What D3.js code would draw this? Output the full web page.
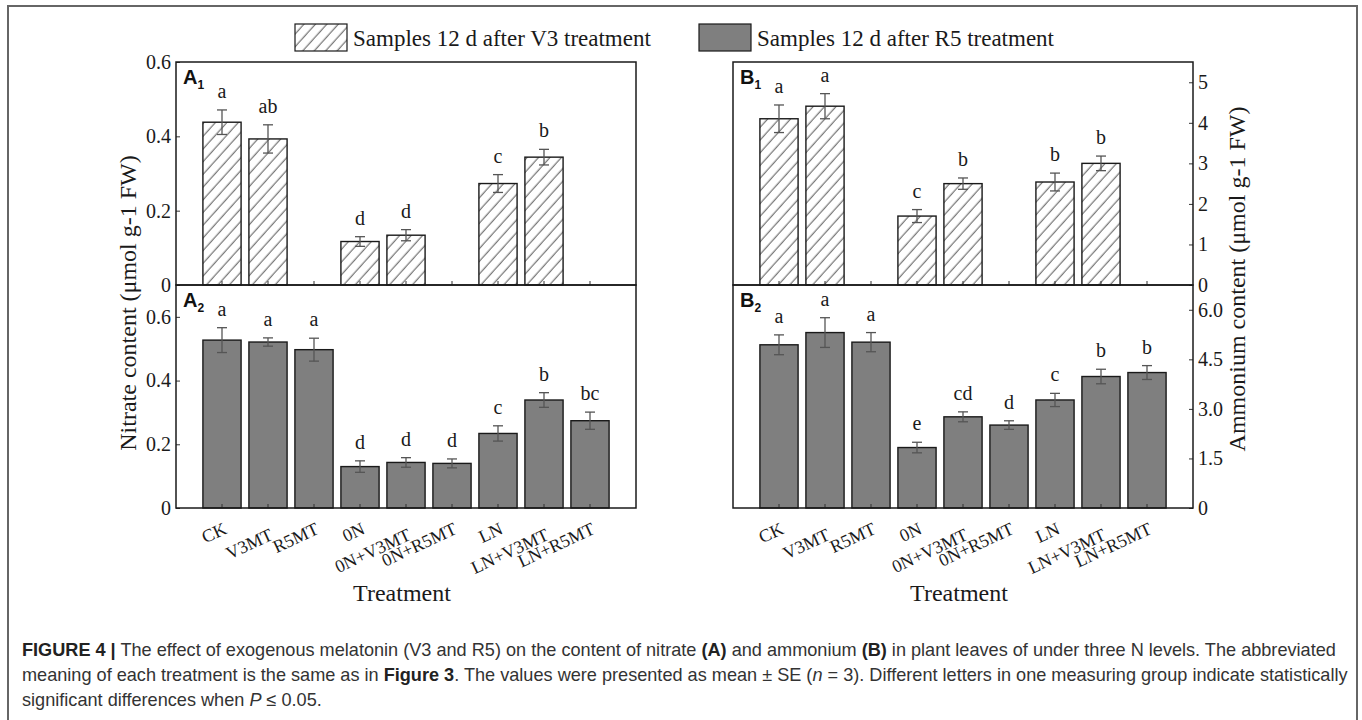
<!DOCTYPE html>
<html><head><meta charset="utf-8">
<script src="https://cdn.jsdelivr.net/npm/d3@7"></script>
<style>body{margin:0;background:#fff;} svg{display:block;}</style>
</head><body><svg id="chart" width="1362" height="720"></svg>
<script>
// ---------------- data ----------------
const categories = ["CK","V3MT","R5MT","0N","0N+V3MT","0N+R5MT","LN","LN+V3MT","LN+R5MT"];

// Nitrate (A), samples 12 d after V3 treatment (A1)
const nitrateV3      = [0.438, 0.393, null, 0.117, 0.134, null, 0.273, 0.344, null];
const nitrateV3Err   = [0.033, 0.038, null, 0.013, 0.015, null, 0.024, 0.021, null];
const nitrateV3Sig   = ["a", "ab", "", "d", "d", "", "c", "b", ""];
// Nitrate (A), samples 12 d after R5 treatment (A2)
const nitrateR5      = [0.527, 0.521, 0.497, 0.130, 0.143, 0.140, 0.234, 0.339, 0.274];
const nitrateR5Err   = [0.039, 0.013, 0.036, 0.018, 0.015, 0.014, 0.024, 0.023, 0.027];
const nitrateR5Sig   = ["a", "a", "a", "d", "d", "d", "c", "b", "bc"];
// Ammonium (B), V3 samples (B1)
const ammoniumV3     = [4.10, 4.41, null, 1.70, 2.50, null, 2.54, 3.00, null];
const ammoniumV3Err  = [0.34, 0.31, null, 0.16, 0.14, null, 0.22, 0.18, null];
const ammoniumV3Sig  = ["a", "a", "", "c", "b", "", "b", "b", ""];
// Ammonium (B), R5 samples (B2)
const ammoniumR5     = [4.94, 5.31, 5.02, 1.83, 2.76, 2.51, 3.27, 3.98, 4.10];
const ammoniumR5Err  = [0.30, 0.45, 0.29, 0.16, 0.15, 0.13, 0.20, 0.22, 0.21];
const ammoniumR5Sig  = ["a", "a", "a", "e", "cd", "d", "c", "b", "b"];

const nitrateTicks     = [0, 0.2, 0.4, 0.6];
const ammoniumTicksTop = [0, 1, 2, 3, 4, 5];
const ammoniumTicksBot = [0, 1.5, 3.0, 4.5, 6.0];

const legendLabels = ["Samples 12 d after V3 treatment", "Samples 12 d after R5 treatment"];

// ---------------- drawing ----------------
const svg = d3.select("#chart");
const serif = "'Liberation Serif','Times New Roman',serif";
const sans  = "'Liberation Sans',Arial,sans-serif";
const barGray = "#7f7f7f";

const defs = svg.append("defs");
const pat = defs.append("pattern").attr("id","hatch").attr("patternUnits","userSpaceOnUse")
  .attr("width",8.5).attr("height",8.5).attr("patternTransform","rotate(42)");
pat.append("rect").attr("width",8.5).attr("height",8.5).attr("fill","#fff");
pat.append("line").attr("x1",4).attr("y1",-1).attr("x2",4).attr("y2",10).attr("stroke","#2a2a2a").attr("stroke-width",0.8);

// outer figure border
svg.append("rect").attr("x",8).attr("y",6).attr("width",1349).attr("height",740)
  .attr("fill","none").attr("stroke","#666").attr("stroke-width",2);

const fmtA = d => d === 0 ? "0" : d3.format(".1f")(d);
const fmtB1 = d => d3.format("d")(d);
const fmtB2 = d => d === 0 ? "0" : d3.format(".1f")(d);

const panels = [
  {x0:176, x1:636, y0:62,  y1:285, vals:nitrateV3, errs:nitrateV3Err, sig:nitrateV3Sig, dom:[0,0.6],  ticks:nitrateTicks, fmt:fmtA,  side:"left",  fill:"url(#hatch)", lab:"A", sub:"1", xlabels:false},
  {x0:176, x1:636, y0:285, y1:508, vals:nitrateR5, errs:nitrateR5Err, sig:nitrateR5Sig, dom:[0,0.7],  ticks:nitrateTicks, fmt:fmtA,  side:"left",  fill:barGray,       lab:"A", sub:"2", xlabels:true},
  {x0:733, x1:1193, y0:62,  y1:285, vals:ammoniumV3, errs:ammoniumV3Err, sig:ammoniumV3Sig, dom:[0,5.5], ticks:ammoniumTicksTop, fmt:fmtB1, side:"right", fill:"url(#hatch)", lab:"B", sub:"1", xlabels:false},
  {x0:733, x1:1193, y0:285, y1:508, vals:ammoniumR5, errs:ammoniumR5Err, sig:ammoniumR5Sig, dom:[0,6.75], ticks:ammoniumTicksBot, fmt:fmtB2, side:"right", fill:barGray, lab:"B", sub:"2", xlabels:true}
];

panels.forEach(p => {
  const g = svg.append("g");
  const x = d3.scaleBand().domain(categories).range([p.x0, p.x1]).paddingInner(0.17).paddingOuter(0.585);
  const y = d3.scaleLinear().domain(p.dom).range([p.y1, p.y0]);
  const data = categories.map((c,i) => ({c, v:p.vals[i], e:p.errs[i], s:p.sig[i]})).filter(d => d.v != null);

  // bars
  g.selectAll("rect.bar").data(data).join("rect").attr("class","bar")
    .attr("x", d => x(d.c)).attr("width", x.bandwidth())
    .attr("y", d => y(d.v)).attr("height", d => y(0) - y(d.v))
    .attr("fill", p.fill).attr("stroke","#1a1a1a").attr("stroke-width",1.4);

  // x ticks (inside)
  const xa = g.append("g").attr("transform",`translate(0,${p.y1})`)
    .call(d3.axisBottom(x).tickSize(-4).tickFormat(""));
  xa.select(".domain").remove();
  xa.selectAll("line").attr("stroke","#333").attr("stroke-width",1);

  // error bars
  const eb = g.selectAll("g.err").data(data).join("g").attr("class","err")
    .attr("stroke","#555").attr("stroke-width",1.3);
  eb.append("line").attr("x1", d => x(d.c)+x.bandwidth()/2).attr("x2", d => x(d.c)+x.bandwidth()/2)
    .attr("y1", d => y(d.v - d.e)).attr("y2", d => y(d.v + d.e));
  eb.append("line").attr("x1", d => x(d.c)+x.bandwidth()/2-5).attr("x2", d => x(d.c)+x.bandwidth()/2+5)
    .attr("y1", d => y(d.v + d.e)).attr("y2", d => y(d.v + d.e));
  eb.append("line").attr("x1", d => x(d.c)+x.bandwidth()/2-5).attr("x2", d => x(d.c)+x.bandwidth()/2+5)
    .attr("y1", d => y(d.v - d.e)).attr("y2", d => y(d.v - d.e));

  // significance letters
  g.selectAll("text.sig").data(data).join("text").attr("class","sig")
    .attr("x", d => x(d.c)+x.bandwidth()/2).attr("y", d => y(d.v + d.e) - 12)
    .attr("text-anchor","middle").attr("font-family",serif).attr("font-size",20).attr("fill","#1a1a1a")
    .text(d => d.s);

  // y axis
  const ax = p.side === "left" ? d3.axisLeft(y) : d3.axisRight(y);
  const ya = g.append("g").attr("transform",`translate(${p.side === "left" ? p.x0 : p.x1},0)`)
    .call(ax.tickValues(p.ticks).tickSize(-4).tickPadding(5).tickFormat(p.fmt));
  ya.select(".domain").remove();
  ya.selectAll("line").attr("stroke","#333").attr("stroke-width",1);
  ya.selectAll("text").attr("font-family",serif).attr("font-size",20).attr("fill","#1a1a1a");

  // frame
  g.append("rect").attr("x",p.x0).attr("y",p.y0).attr("width",p.x1-p.x0).attr("height",p.y1-p.y0)
    .attr("fill","none").attr("stroke","#1a1a1a").attr("stroke-width",1.5);

  // panel label
  const pl = g.append("text").attr("x", p.x0+7).attr("y", p.y0+22)
    .attr("font-family",sans).attr("font-weight","bold").attr("font-size",20).attr("fill","#111");
  pl.append("tspan").text(p.lab);
  pl.append("tspan").attr("font-size",12).attr("dy",5).text(p.sub);

  // rotated category labels
  if (p.xlabels) {
    g.selectAll("text.xl").data(categories).join("text").attr("class","xl")
      .attr("transform", (c,i) => `translate(${x(c)+x.bandwidth()/2+6},${p.y1+25+(i%3===1?6:0)}) rotate(-25)`)
      .attr("text-anchor","end").attr("font-family",serif).attr("font-size",18).attr("fill","#1a1a1a")
      .text(c => c);
    svg.append("text").attr("x",(p.x0+p.x1)/2-4).attr("y",601).attr("text-anchor","middle")
      .attr("font-family",serif).attr("font-size",24).attr("fill","#1a1a1a").text("Treatment");
  }
});

// axis titles
svg.append("text").attr("transform","translate(136,303) rotate(-90)").attr("text-anchor","middle")
  .attr("font-family",serif).attr("font-size",24).attr("fill","#1a1a1a").text("Nitrate content (μmol g-1 FW)");
svg.append("text").attr("transform","translate(1245,279) rotate(-90)").attr("text-anchor","middle")
  .attr("font-family",serif).attr("font-size",24).attr("fill","#1a1a1a").text("Ammonium content (μmol g-1 FW)");

// legend
const legFills = ["url(#hatch)", barGray];
const legX = [295, 699];
legendLabels.forEach((t,i) => {
  svg.append("rect").attr("x",legX[i]).attr("y",24).attr("width",52).attr("height",27)
    .attr("fill",legFills[i]).attr("stroke","#1a1a1a").attr("stroke-width",1.2);
  svg.append("text").attr("x",legX[i]+58).attr("y",46).attr("font-family",serif).attr("font-size",23)
    .attr("fill","#1a1a1a").text(t);
});

// caption
const capLines = [
  [["FIGURE 4 |","b"],[" The effect of exogenous melatonin (V3 and R5) on the content of nitrate ",""],["(A)","b"],[" and ammonium ",""],["(B)","b"],[" in plant leaves of under three N levels. The abbreviated",""]],
  [["meaning of each treatment is the same as in ",""],["Figure 3","b"],[". The values were presented as mean ± SE (",""],["n","i"],[" = 3). Different letters in one measuring group indicate statistically",""]],
  [["significant differences when ",""],["P","i"],[" ≤ 0.05.",""]]
];
const capNodes = capLines.map((line,li) => {
  const t = svg.append("text").attr("x",22).attr("y",656+li*25)
    .attr("font-family",sans).attr("font-size",16).attr("fill","#333");
  line.forEach(([s,st]) => {
    const ts = t.append("tspan").text(s);
    if (st === "b") ts.attr("font-weight","bold").attr("fill","#222");
    if (st === "i") ts.attr("font-style","italic");
  });
  return t;
});
const w0 = capNodes[0].node().getComputedTextLength();
const fs = 16 * 1315 / w0;
capNodes.forEach(t => t.attr("font-size", fs));
</script></body></html>
